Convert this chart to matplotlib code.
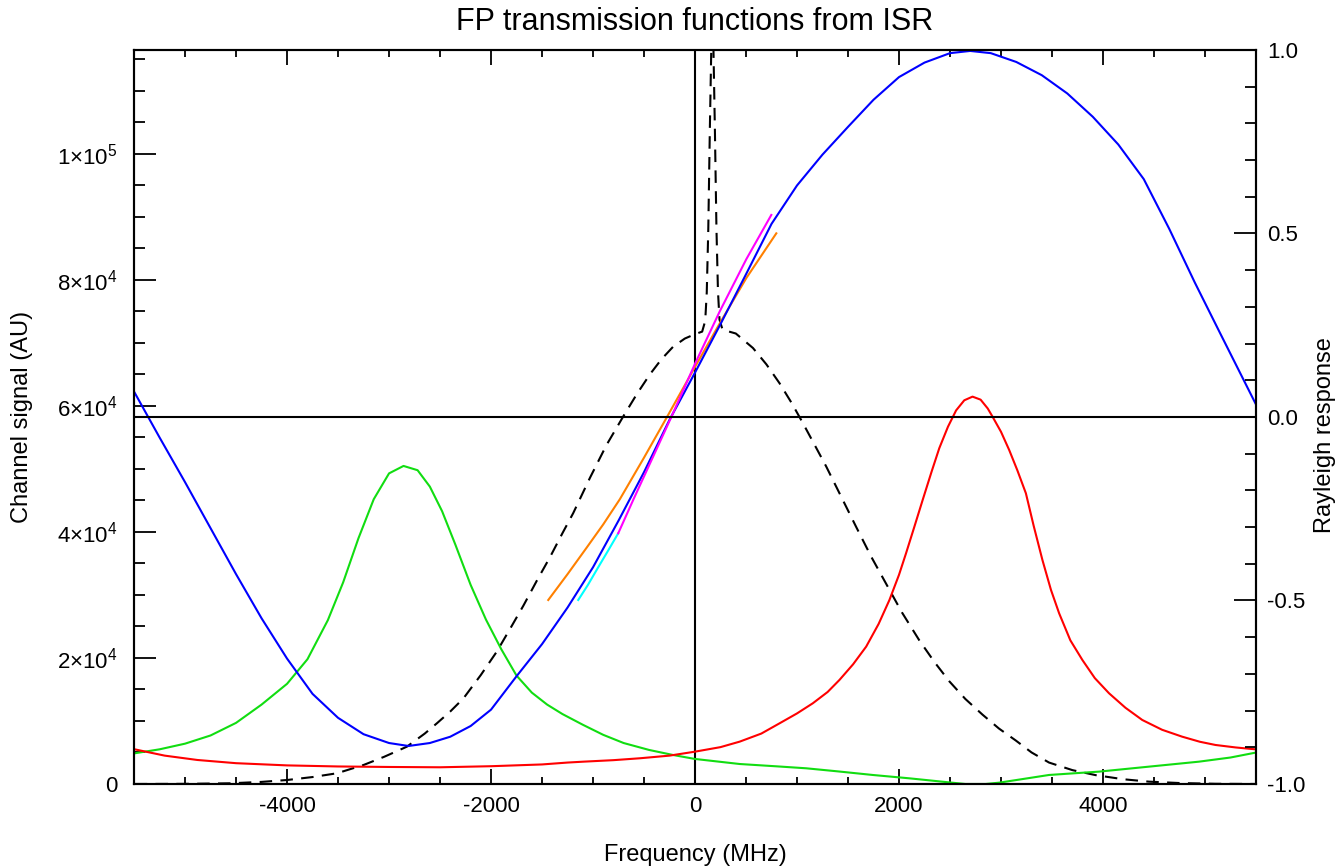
import matplotlib
matplotlib.use("Agg")
import matplotlib.pyplot as plt
from matplotlib.ticker import MultipleLocator

plt.rcParams["font.family"] = "Liberation Sans"
plt.rcParams["mathtext.fontset"] = "custom"
plt.rcParams["mathtext.rm"] = "Liberation Sans"
plt.rcParams["mathtext.it"] = "Liberation Sans:italic"
plt.rcParams["axes.unicode_minus"] = False

# FP transmission (blue), frequency in MHz, signal in AU
blue_x = [-5494, -5250, -5000, -4750, -4500, -4250, -4000, -3750, -3500, -3250, -3000, -2809,
          -2600, -2400, -2200, -2000, -1750, -1500, -1250, -1000, -750, -500, -250, 0, 250,
          500, 750, 1000, 1250, 1500, 1750, 2000, 2250, 2500, 2698, 2900, 3150, 3400, 3650,
          3900, 4150, 4400, 4650, 4900, 5150, 5494]
blue_y = [62100, 55000, 47900, 40600, 33300, 26300, 19900, 14300, 10500, 7900, 6500, 6030,
          6500, 7500, 9200, 11800, 17100, 22200, 28000, 34400, 41800, 49500, 57800, 65300, 73000,
          80900, 88900, 95000, 99900, 104300, 108600, 112200, 114500, 116000, 116350, 116000, 114600, 112500, 109600,
          105900, 101500, 96000, 88100, 79600, 71500, 60430]

green_x = [-5494, -5250, -5000, -4750, -4500, -4250, -4000, -3800, -3600, -3450, -3300, -3150,
           -3000, -2858, -2720, -2600, -2480, -2350, -2200, -2050, -1900, -1750, -1600, -1450,
           -1300, -1100, -900, -700, -450, -215, 0, 438, 800, 1090, 1400, 1742, 2100, 2493,
           2650, 2850, 2982, 3200, 3471, 3961, 4450, 4940, 5250, 5494]
green_y = [4870, 5500, 6400, 7700, 9700, 12600, 15900, 19800, 26000, 32000, 39000, 45200,
           49300, 50480, 49800, 47200, 43300, 38000, 31600, 26100, 21400, 17200, 14500, 12600,
           11100, 9400, 7800, 6500, 5400, 4600, 3970, 3170, 2800, 2490, 2000, 1430, 900, 250,
           0, 0, 210, 750, 1430, 1960, 2750, 3540, 4200, 4970]

red_x = [-5494, -5200, -4880, -4500, -4000, -3500, -3000, -2500, -2000, -1500, -1250, -1096,
         -800, -541, -250, 0, 250, 438, 650, 829, 1000, 1155, 1300, 1416, 1550, 1678, 1800,
         1906, 2000, 2069, 2150, 2232, 2320, 2395, 2480, 2560, 2640, 2721, 2800, 2870, 2917,
         3000, 3080, 3160, 3244, 3320, 3406, 3490, 3570, 3680, 3798, 3920, 4059, 4220, 4385,
         4580, 4776, 4950, 5103, 5300, 5494]
red_y = [5500, 4500, 3810, 3300, 2950, 2780, 2700, 2650, 2820, 3100, 3400, 3540,
         3780, 4080, 4500, 5130, 5850, 6720, 8000, 9630, 11200, 12810, 14600, 16510, 19000, 21800, 25400,
         29200, 33200, 36620, 40800, 45080, 49600, 53300, 56700, 59300, 60900, 61480, 61000, 59600, 58300,
         55900, 53020, 49800, 46140, 41000, 35560, 30800, 27090, 22800, 19680, 16800, 14400, 12100, 10160,
         8600, 7510, 6700, 6190, 5800, 5500]

# Rayleigh + Mie spectrum (dashed)
dash_x = [-5494, -5000, -4554, -4250, -4000, -3750, -3510, -3249, -3050, -2825, -2650, -2531,
          -2400, -2270, -2100, -1944, -1800, -1683, -1550, -1422, -1300, -1194, -1030, -868,
          -705, -570, -443, -330, -215, -100, 0, 70, 100, 115, 130, 145, 160, 170, 180, 195,
          210, 225, 240, 270, 400, 568, 700, 829, 950, 1057, 1170, 1286, 1430, 1580, 1730,
          1873, 2030, 2199, 2350, 2493, 2650, 2819, 2980, 3145, 3300, 3471, 3700, 3929, 4200,
          4450, 4750, 5103, 5494]
dash_y = [0, 20, 110, 330, 630, 1100, 1700, 3020, 4300, 5920, 8000, 9630,
          11500, 13600, 17300, 21000, 25000, 28300, 32300, 36000, 39800, 43000, 48600, 53800,
          58300, 61900, 65000, 67400, 69400, 70700, 71400, 71800, 73500, 78000, 88000, 103600, 117300, 120600, 117300, 103700,
          88200, 78200, 73700, 72100, 71500, 69200, 66600, 63600, 60400, 57300, 53900, 50400, 45700, 40800, 36000,
          31800, 27200, 22800, 19300, 16300, 13500, 11000, 8800, 6900, 5000, 3400, 2200, 1400, 750,
          370, 150, 30, 0]

orange_x = [-1439, -1250, -1063, -900, -737, -500, -280, 0, 242, 503, 797]
orange_y = [29200, 33300, 37500, 41200, 45200, 51800, 58100, 66200, 73100, 80300, 87400]
magenta_x = [-753, -600, -411, -231, 0, 242, 503, 748]
magenta_y = [39790, 45300, 51950, 58300, 66700, 75000, 83300, 90320]
cyan_x = [-1145, -1050, -949, -850, -753]
cyan_y = [29200, 31600, 34400, 37100, 39790]

left_ticks = [0, 20000, 40000, 60000, 80000, 100000]
left_labels = ["0", "2×10$^4$", "4×10$^4$", "6×10$^4$", "8×10$^4$", "1×10$^5$"]
right_ticks = [-1.0, -0.5, 0.0, 0.5, 1.0]
right_labels = ["-1.0", "-0.5", "0.0", "0.5", "1.0"]

fig = plt.figure(figsize=(13.42, 8.68), dpi=100)
ax = fig.add_axes([0.0999, 0.0968, 0.8360, 0.8456])
ax2 = ax.twinx()

lw = 1.5
ax.axvline(0, color="black", lw=1.5)
ax.plot(dash_x, dash_y, color="black", lw=lw, linestyle=(0, (6, 4)))
ax.plot(green_x, green_y, color="#11dd11", lw=lw)
ax.plot(red_x, red_y, color="#ff0000", lw=lw)
ax.plot(orange_x, orange_y, color="#ff8000", lw=lw)
ax.plot(blue_x, blue_y, color="#0000ff", lw=lw)
ax.plot(cyan_x, cyan_y, color="#00ffff", lw=lw)
ax.plot(magenta_x, magenta_y, color="#ff00ff", lw=lw)
ax2.axhline(0, color="black", lw=1.5)

ax.set_xlim(-5500, 5500)
ax.set_ylim(0, 116500)
ax2.set_ylim(-1, 1)

ax.xaxis.set_major_locator(MultipleLocator(2000))
ax.xaxis.set_minor_locator(MultipleLocator(500))
ax.set_yticks(left_ticks)
ax.set_yticklabels(left_labels)
ax.yaxis.set_minor_locator(MultipleLocator(5000))
ax2.set_yticks(right_ticks)
ax2.set_yticklabels(right_labels)
ax2.yaxis.set_minor_locator(MultipleLocator(0.1))

ax.tick_params(axis="x", which="both", direction="in", top=True, bottom=True, width=1.3, labelsize=16, pad=9)
ax.tick_params(axis="x", which="major", length=11)
ax.tick_params(axis="x", which="minor", length=5)
ax.tick_params(axis="y", which="both", direction="in", left=True, right=False, width=1.3, labelsize=16, pad=12)
ax.tick_params(axis="y", which="major", length=16)
ax.tick_params(axis="y", which="minor", length=8)
ax2.tick_params(axis="y", which="both", direction="in", width=1.3, labelsize=16, pad=8)
ax2.tick_params(axis="y", which="major", length=16)
ax2.tick_params(axis="y", which="minor", length=8)
for a in (ax, ax2):
    for s in a.spines.values():
        s.set_linewidth(1.5)

fig.text(695 / 1342, 1 - 22 / 868, "FP transmission functions from ISR", ha="center", va="center", fontsize=22)
fig.text(695 / 1342, 1 - 855 / 868, "Frequency (MHz)", ha="center", va="center", fontsize=17)
fig.text(22 / 1342, 1 - 417 / 868, "Channel signal (AU)", ha="center", va="center", rotation=90, fontsize=17)
fig.text(1325 / 1342, 1 - 435 / 868, "Rayleigh response", ha="center", va="center", rotation=90, fontsize=17)

fig.savefig("out.png", dpi=100)
